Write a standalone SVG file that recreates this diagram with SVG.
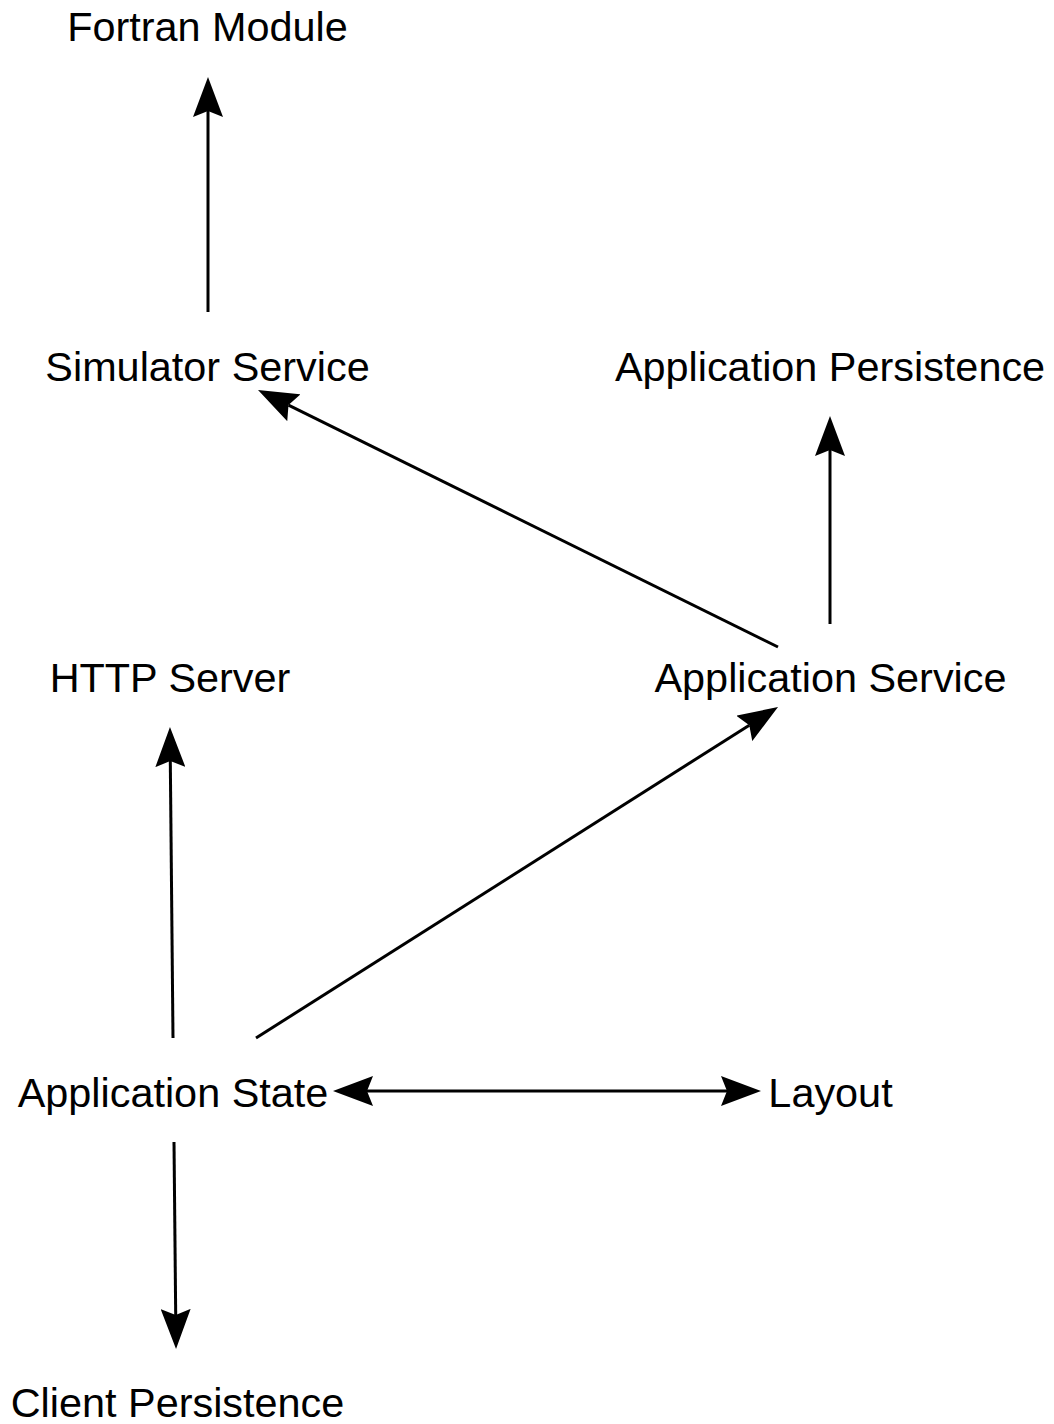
<svg xmlns="http://www.w3.org/2000/svg" width="1054" height="1424" viewBox="0 0 1054 1424">
  <style>
    .label { font-family: "Liberation Sans", Arial, sans-serif; font-size: 41.4px; fill: #000; text-anchor: middle; }
    .edge { stroke: #000; stroke-width: 3; fill: none; }
  </style>
  <defs>
    <marker id="arrow" viewBox="0 0 40 30" refX="6" refY="15" markerWidth="40" markerHeight="30" markerUnits="userSpaceOnUse" orient="auto-start-reverse">
      <path d="M0,0 L40,15 L0,30 L6,15 Z" fill="#000"/>
    </marker>
  </defs>
  <rect width="1054" height="1424" fill="#fff"/>

  <g id="connectors">
    <line class="edge" x1="208" y1="312" x2="208" y2="111" marker-end="url(#arrow)"/>
    <line class="edge" x1="778" y1="647" x2="288.5" y2="405.1" marker-end="url(#arrow)"/>
    <line class="edge" x1="830" y1="624" x2="830" y2="450" marker-end="url(#arrow)"/>
    <line class="edge" x1="173" y1="1038" x2="170.3" y2="761" marker-end="url(#arrow)"/>
    <line class="edge" x1="256" y1="1038" x2="749.3" y2="725.2" marker-end="url(#arrow)"/>
    <line class="edge" x1="367" y1="1091" x2="727" y2="1091" marker-start="url(#arrow)" marker-end="url(#arrow)"/>
    <line class="edge" x1="174" y1="1142" x2="175.7" y2="1315" marker-end="url(#arrow)"/>
  </g>

  <g id="fortran-module"><text class="label" x="207.5" y="41">Fortran Module</text></g>
  <g id="simulator-service"><text class="label" x="207.5" y="381">Simulator Service</text></g>
  <g id="application-persistence"><text class="label" x="830" y="381">Application Persistence</text></g>
  <g id="http-server"><text class="label" x="170" y="692">HTTP Server</text></g>
  <g id="application-service"><text class="label" x="830.5" y="692">Application Service</text></g>
  <g id="application-state"><text class="label" x="173" y="1107">Application State</text></g>
  <g id="layout"><text class="label" x="830.5" y="1107">Layout</text></g>
  <g id="client-persistence"><text class="label" x="177.5" y="1417">Client Persistence</text></g>
</svg>
